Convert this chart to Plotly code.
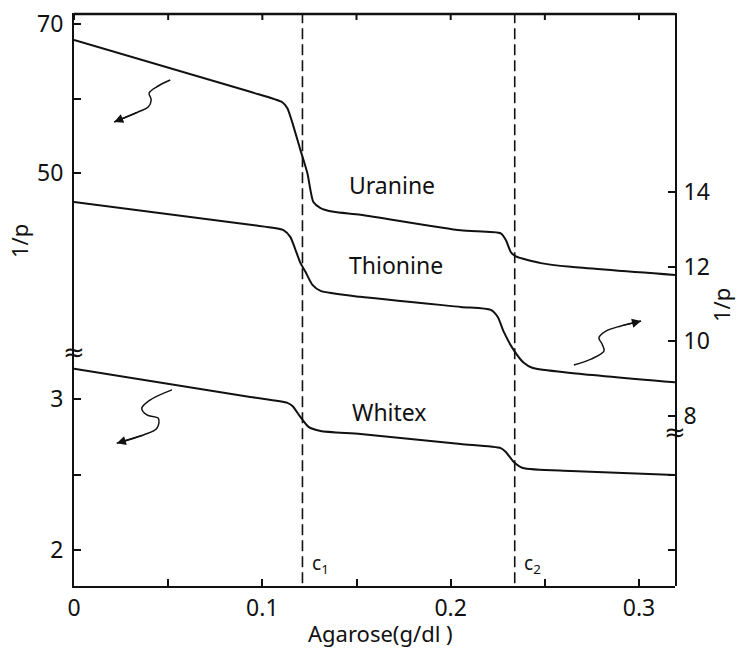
import plotly.graph_objects as go

# ---------------- data ----------------
uranine_x = [0, 0.0936, 0.1106, 0.1133, 0.116, 0.1202, 0.1239, 0.1271, 0.1309, 0.1378,
             0.1521, 0.2053, 0.2266, 0.2293, 0.2319, 0.2346, 0.2479, 0.2638, 0.3191]
uranine_y = [67.85, 60.9, 59.5, 58.7, 56.7, 53.1, 50.0, 46.1, 45.3, 44.8,
             44.4, 42.3, 41.9, 41.0, 39.4, 38.8, 37.9, 37.4, 36.3]

thionine_x = [0, 0.0936, 0.1112, 0.1149, 0.1176, 0.1202, 0.1229, 0.1266, 0.1309, 0.1521,
              0.2053, 0.2213, 0.225, 0.2282, 0.2335, 0.2388, 0.2436, 0.2638, 0.3191]
thionine_y = [13.73, 13.12, 12.98, 12.79, 12.45, 12.10, 11.86, 11.51, 11.35, 11.19,
              10.92, 10.84, 10.65, 10.25, 9.76, 9.42, 9.28, 9.15, 8.9]

whitex_x = [0, 0.0936, 0.1133, 0.116, 0.1202, 0.1245, 0.1309, 0.1521, 0.2053, 0.2266,
            0.2293, 0.2335, 0.2383, 0.2638, 0.3191]
whitex_y = [3.2, 3.013, 2.974, 2.954, 2.881, 2.815, 2.788, 2.768, 2.702, 2.675,
            2.649, 2.583, 2.543, 2.523, 2.497]

c1 = 0.1213
c2 = 0.234

# squiggly arrows (decoration)
arrow_u_x = [0.0511, 0.0447, 0.0399, 0.041, 0.0394, 0.034, 0.0213]
arrow_u_y = [62.48, 61.68, 60.74, 59.80, 58.86, 58.19, 56.85]
arrow_w_x = [0.052, 0.0404, 0.036, 0.0387, 0.0448, 0.044, 0.0369, 0.0227]
arrow_w_y = [3.06, 2.993, 2.938, 2.894, 2.872, 2.806, 2.762, 2.707]
arrow_t_x = [0.2654, 0.2745, 0.2814, 0.2803, 0.2787, 0.2824, 0.2904, 0.3011]
arrow_t_y = [9.36, 9.52, 9.74, 9.93, 10.09, 10.27, 10.41, 10.54]

x_tickvals = [0, 0.05, 0.1, 0.15, 0.2, 0.25, 0.3]
x_ticktext = ["0", "", "0.1", "", "0.2", "", "0.3"]
yu_tickvals = [50, 60, 70]
yu_ticktext = ["50", "", "70"]
yl_tickvals = [2, 2.5, 3]
yl_ticktext = ["2", "", "3"]
yr_tickvals = [8, 10, 12, 14]
yr_ticktext = ["8", "10", "12", "14"]
yrl_tickvals = [2, 2.5]

# ---------------- figure ----------------
FONT = "Noto Sans"
BLACK = "#111111"
f_left = (586 - 352) / 573
f_right = (586 - 432) / 573

fig = go.Figure()
curve = dict(color=BLACK, width=2, shape="spline", smoothing=0.6)
fig.add_trace(go.Scatter(x=uranine_x, y=uranine_y, xaxis="x", yaxis="y", mode="lines", line=curve))
fig.add_trace(go.Scatter(x=thionine_x, y=thionine_y, xaxis="x", yaxis="y3", mode="lines", line=curve))
fig.add_trace(go.Scatter(x=whitex_x, y=whitex_y, xaxis="x", yaxis="y2", mode="lines", line=curve))

# invisible helper trace so the lower-right y axis gets drawn
fig.add_trace(go.Scatter(x=x_tickvals[:2], y=yrl_tickvals, xaxis="x", yaxis="y4", mode="lines",
                         opacity=0, hoverinfo="skip", line=dict(width=0)))

squig = dict(color=BLACK, width=1.5, shape="spline", smoothing=1.0)
for ax_, ay_, yname in [(arrow_u_x, arrow_u_y, "y"), (arrow_w_x, arrow_w_y, "y2"), (arrow_t_x, arrow_t_y, "y3")]:
    fig.add_trace(go.Scatter(x=ax_, y=ay_, xaxis="x", yaxis=yname, mode="lines", line=squig))
    fig.add_annotation(x=ax_[-1], y=ay_[-1], ax=ax_[-2], ay=ay_[-2], xref="x", yref=yname,
                       axref="x", ayref=yname, text="", showarrow=True, arrowhead=2,
                       arrowsize=1.3, arrowwidth=1.4, arrowcolor=BLACK)

axis_common = dict(showline=True, linecolor=BLACK, linewidth=2, ticks="inside", ticklen=7,
                   tickwidth=2, tickcolor=BLACK, showgrid=False, zeroline=False,
                   tickfont=dict(family=FONT, size=23, color=BLACK))

fig.update_layout(
    width=738, height=648,
    margin=dict(l=74, r=63, t=13, b=62, autoexpand=False),
    paper_bgcolor="white", plot_bgcolor="rgba(0,0,0,0)",
    showlegend=False,
    xaxis=dict(domain=[0, 1], range=[0, 0.3191], anchor="y2", tickmode="array",
               tickvals=x_tickvals, ticktext=x_ticktext, **axis_common),
    yaxis=dict(domain=[f_left, 1], range=[25.97, 71.48], anchor="x", tickmode="array",
               tickvals=yu_tickvals, ticktext=yu_ticktext, ticklabelstandoff=4, **axis_common),
    yaxis2=dict(domain=[0, f_left], range=[1.762, 3.311], anchor="x", tickmode="array",
                tickvals=yl_tickvals, ticktext=yl_ticktext, ticklabelstandoff=4, **axis_common),
    yaxis3=dict(domain=[f_right, 1], range=[7.566, 18.80], anchor="x", side="right",
                tickmode="array", tickvals=yr_tickvals, ticktext=yr_ticktext,
                ticklabelstandoff=2, **axis_common),
    yaxis4=dict(domain=[0, f_right], range=[1.762, 2.782], anchor="x", side="right",
                tickmode="array", tickvals=yrl_tickvals, showticklabels=False, **axis_common),
)

# top frame edge with inward ticks
fig.add_shape(type="line", xref="paper", yref="paper", x0=0, x1=1, y0=1 - 1.0 / 573,
              y1=1 - 1.0 / 573, line=dict(color=BLACK, width=2.5), layer="above")
for tv in x_tickvals:
    fig.add_shape(type="line", xref="x", yref="paper", x0=tv, x1=tv, ysizemode="pixel",
                  yanchor=1, y0=0, y1=-7, line=dict(color=BLACK, width=2))

# dashed critical concentration lines
for cx in (c1, c2):
    fig.add_shape(type="line", xref="x", yref="paper", x0=cx, x1=cx, y0=0.005, y1=1,
                  line=dict(color=BLACK, width=1.6, dash="11px,5px"))

txt = dict(family=FONT, size=22, color=BLACK)
center = dict(xanchor="center", yanchor="middle", showarrow=False)
fig.add_annotation(x=c1, y=0.038, xref="x", yref="paper", text="c<sub>1</sub>", xshift=18,
                   font=dict(family=FONT, size=19, color=BLACK), **center)
fig.add_annotation(x=c2, y=0.038, xref="x", yref="paper", text="c<sub>2</sub>", xshift=18,
                   font=dict(family=FONT, size=19, color=BLACK), **center)

fig.add_annotation(x=0.1691, y=48.4, xref="x", yref="y", text="Uranine",
                   font=dict(family=FONT, size=23, color=BLACK), **center)
fig.add_annotation(x=0.1712, y=12.04, xref="x", yref="y3", text="Thionine",
                   font=dict(family=FONT, size=23, color=BLACK), **center)
fig.add_annotation(x=0.1675, y=2.914, xref="x", yref="y2", text="Whitex",
                   font=dict(family=FONT, size=23, color=BLACK), **center)

# axis titles
fig.add_annotation(x=-0.0915, y=0.602, xref="paper", yref="paper", text="1/p",
                   textangle=-90, font=txt, **center)
fig.add_annotation(x=1.0765, y=0.4904, xref="paper", yref="paper", text="1/p",
                   textangle=-90, font=txt, **center)
fig.add_annotation(x=0.5108, y=-0.082, xref="paper", yref="paper", text="Agarose(g/dl )",
                   font=txt, **center)

# axis break marks
fig.add_annotation(x=0, y=f_left, xref="paper", yref="paper", text="≈",
                   font=dict(family="DejaVu Sans", size=26, color=BLACK), **center)
fig.add_annotation(x=1, y=f_right, xref="paper", yref="paper", text="≈",
                   font=dict(family="DejaVu Sans", size=26, color=BLACK), **center)

fig.write_html("out.html", post_script="document.body.style.margin='0px';",
               config={"displayModeBar": False})
